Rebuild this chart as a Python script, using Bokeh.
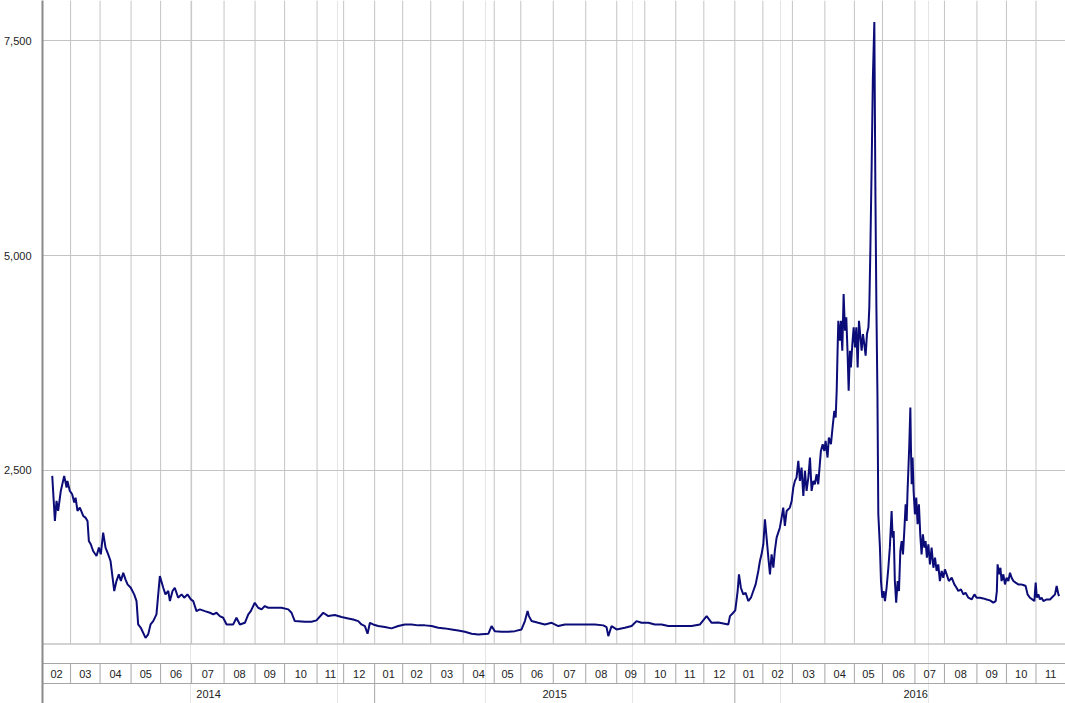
import numpy as np
from bokeh.plotting import figure
from bokeh.models import Range1d, FixedTicker, NumeralTickFormatter
from bokeh.embed import file_html
from bokeh.resources import INLINE

# ---- data ----
month_labels = ["02", "03", "04", "05", "06", "07", "08", "09", "10", "11", "12",
                "01", "02", "03", "04", "05", "06", "07", "08", "09", "10", "11", "12",
                "01", "02", "03", "04", "05", "06", "07", "08", "09", "10", "11", "12"]
# trading days per month (x axis is a trading-day index)
month_days = [19, 20, 21, 20, 21, 22, 21, 20, 22, 18, 21,
              19, 19, 22, 21, 18, 22, 22, 21, 19, 21, 19, 21,
              19, 20, 22, 20, 19, 22, 20, 22, 20, 20, 20, 21]
year_labels = ["2014", "2015", "2016"]
y_ticks = [2500, 5000, 7500]

day = [
    6.6, 8.4, 9.5, 10.6, 12.4, 14.7, 16.3, 16.9, 18.5, 20.1,
    21.5, 22.4, 23.7, 25.3, 27.6, 29.1, 30.5, 31.4, 32.7, 34.3,
    36.6, 38.2, 39.5, 41.1, 42.7, 44.5, 46.1, 47.2, 48.6, 50.1,
    51.7, 53.1, 54.7, 56.2, 57.6, 59.8, 62.1, 63.7, 64.8, 66.6,
    69.8, 71.6, 73.2, 75.0, 77.2, 78.4, 79.5, 81.8, 83.3, 85.2,
    86.3, 88.1, 89.6, 91.9, 94.2, 96.0, 98.2, 100.5, 102.1, 104.3,
    106.6, 110.0, 113.4, 115.7, 117.9, 120.1, 122.4, 124.7, 129.2, 131.4,
    133.7, 137.1, 139.4, 141.1, 143.8, 146.1, 148.4, 150.6, 152.9, 157.4,
    161.9, 166.5, 168.7, 170.9, 177.7, 182.2, 185.6, 190.2, 193.6, 198.0,
    202.6, 207.1, 210.5, 213.9, 216.1, 218.4, 220.2, 221.8, 224.0, 227.4,
    231.9, 236.4, 241.0, 245.5, 250.0, 254.5, 259.0, 263.6, 268.1, 272.6,
    277.1, 281.6, 286.1, 290.7, 295.2, 302.0, 304.2, 306.4, 311.0, 315.5,
    320.0, 324.5, 326.8, 328.6, 329.5, 331.3, 335.8, 340.3, 344.9, 349.4,
    353.9, 360.6, 367.4, 374.2, 379.9, 382.1, 383.3, 385.5, 388.9, 394.5,
    399.1, 402.4, 405.8, 410.4, 414.8, 419.4, 423.9, 428.4, 432.9, 439.7,
    445.4, 449.9, 453.3, 457.8, 464.6, 465.7, 467.9, 469.3, 470.9, 471.8,
    473.1, 474.7, 476.3, 478.1, 479.9, 481.5, 483.1, 484.9, 486.0, 487.1,
    488.3, 489.4, 490.5, 491.7, 492.8, 493.9, 495.1, 496.1, 497.3, 498.4,
    499.5, 500.7, 501.8, 502.9, 504.1, 505.2, 506.3, 507.5, 508.6, 509.7,
    510.8, 512.0, 513.1, 514.2, 515.4, 516.5, 517.6, 518.8, 519.9, 521.0,
    522.2, 523.2, 524.4, 525.5, 526.2, 527.3, 528.5, 529.6, 530.5, 531.8,
    532.7, 534.1, 535.2, 536.4, 537.3, 538.0, 538.6, 539.1, 540.2, 540.9,
    541.8, 542.7, 543.6, 544.5, 545.4, 546.1, 547.0, 547.6, 548.6, 549.5,
    550.4, 551.3, 552.2, 553.1, 554.1, 554.9, 555.8, 556.7, 557.6, 558.5,
    559.5, 560.1, 560.8, 561.7, 562.5, 563.5, 564.2, 564.9, 565.6, 566.2,
    567.3, 568.0, 568.9, 569.8, 570.7, 571.8, 573.0, 574.0, 575.2, 575.9,
    576.6, 577.4, 578.3, 579.3, 580.2, 581.1, 582.0, 582.9, 583.8, 584.7,
    585.4, 586.0, 586.7, 587.2, 587.9, 588.3, 588.8, 589.4, 590.1, 591.0,
    591.9, 592.8, 593.7, 594.6, 595.5, 596.4, 597.4, 598.2, 599.1, 600.1,
    601.2, 602.3, 603.5, 604.6, 605.7, 606.8, 607.9, 609.1, 610.2, 611.3,
    612.5, 614.0, 615.9, 617.7, 619.2, 620.4, 622.2, 623.8, 625.3, 627.2,
    629.4, 631.3, 632.8, 635.1, 637.3, 639.6, 641.8, 644.1, 645.7, 646.5,
    647.0, 647.9, 648.9, 649.7, 650.9, 652.0, 653.1, 654.3, 655.4, 656.5,
    657.7, 659.2, 661.0, 662.8, 664.4, 666.0, 667.3, 668.9, 670.5, 671.9,
    672.8, 673.6, 674.6, 675.7, 676.8, 678.0, 680.2, 682.5, 684.8, 685.9,
    687.0, 688.2, 688.6]

price = [
    2436, 1911, 2145, 2028, 2261, 2436, 2300, 2378, 2261, 2222,
    2125, 2183, 2028, 2067, 1970, 1950, 1911, 1678, 1640, 1562,
    1504, 1601, 1523, 1775, 1601, 1523, 1445, 1290, 1096, 1212,
    1290, 1212, 1309, 1232, 1173, 1134, 1057, 979, 707, 668,
    551, 591, 707, 746, 824, 1057, 1270, 1134, 1057, 1096,
    979, 1096, 1134, 1018, 1057, 1018, 1057, 998, 979, 862,
    882, 862, 843, 824, 843, 804, 785, 707, 707, 785,
    707, 726, 824, 862, 959, 901, 882, 921, 901, 901,
    901, 882, 843, 746, 738, 738, 754, 843, 804, 816,
    793, 777, 765, 746, 707, 688, 598, 726, 707, 688,
    676, 661, 688, 707, 707, 696, 696, 688, 668, 661,
    649, 637, 622, 598, 591, 598, 688, 629, 622, 622,
    629, 649, 746, 862, 804, 746, 726, 707, 726, 688,
    707, 707, 707, 707, 696, 676, 571, 688, 649, 668,
    688, 746, 726, 726, 707, 707, 688, 688, 688, 688,
    707, 804, 726, 730, 707, 804, 843, 870, 1096, 1290,
    1134, 1057, 1076, 979, 1018, 1096, 1173, 1329, 1445, 1523,
    1640, 1931, 1717, 1484, 1290, 1523, 1367, 1562, 1717, 1775,
    1833, 1950, 2067, 1853, 2028, 2047, 2067, 2145, 2300, 2378,
    2416, 2611, 2378, 2533, 2203, 2494, 2261, 2416, 2650, 2261,
    2378, 2339, 2455, 2339, 2494, 2727, 2805, 2727, 2844, 2650,
    2883, 2805, 2999, 3193, 3116, 3427, 3893, 4242, 4009, 4242,
    3893, 4553, 4126, 4281, 3854, 3427, 3893, 3698, 3971, 4165,
    3932, 4165, 3698, 4242, 4048, 3893, 4087, 3971, 3835, 4087,
    4165, 4398, 5058, 6068, 7059, 7719, 5780, 4400, 3392, 1989,
    1601, 1212, 1018, 1096, 979, 1134, 1367, 1601, 2028, 1717,
    1795, 1212, 960, 1212, 1096, 1562, 1678, 1523, 1795, 2106,
    1911, 2261, 2572, 2805, 3232, 2766, 2339, 2650, 2261, 1989,
    2183, 1873, 2106, 1756, 1523, 1756, 1601, 1678, 1484, 1640,
    1406, 1601, 1367, 1484, 1329, 1406, 1212, 1329, 1251, 1348,
    1290, 1212, 1251, 1173, 1134, 1096, 1115, 1057, 1076, 1018,
    998, 1057, 1018, 1018, 1010, 998, 987, 960, 979, 1096,
    1406, 1290, 1367, 1212, 1290, 1173, 1251, 1212, 1309, 1251,
    1212, 1193, 1173, 1173, 1166, 1154, 1057, 1018, 998, 979,
    1193, 1018, 1057, 998, 1018, 979, 998, 998, 1037, 1057,
    1154, 1057, 1037]

# ---- layout ----
W, H = 1065, 703
ROWS_H = 60            # height of the date-axis band under the plot
LEFT = 41
FONT = "Liberation Sans"
GRID = "#c4c4c4"
AXIS = "#8a8a8a"
ROWLINE = "#a6a6a6"
Y_LO, Y_HI = 485, 7970

bounds = np.concatenate([[0], np.cumsum(month_days)]).astype(float)
x_end = bounds[-2]  # end of November 2016 = right edge of view
y_start = Y_LO - ROWS_H * (Y_HI - Y_LO) / (H - ROWS_H)

p = figure(width=W, height=H, x_range=Range1d(0, x_end),
           y_range=Range1d(y_start, Y_HI), output_backend="svg",
           toolbar_location=None, x_axis_location=None,
           min_border_left=LEFT, min_border_right=0, min_border_top=0,
           min_border_bottom=0, outline_line_color=None)
p.extra_y_ranges = {"rows": Range1d(0, H)}   # pixel-like units for the axis band

p.yaxis.ticker = FixedTicker(ticks=y_ticks)
p.yaxis.formatter = NumeralTickFormatter(format="0,0")
p.yaxis.major_tick_line_color = None
p.yaxis.minor_tick_line_color = None
p.yaxis.axis_line_color = AXIS
p.yaxis.axis_line_width = 2
p.yaxis.major_label_standoff = 5
p.yaxis.major_label_text_font = FONT
p.yaxis.major_label_text_font_size = "11px"
p.yaxis.major_label_text_color = "#222222"
p.ygrid.ticker = FixedTicker(ticks=y_ticks)
p.ygrid.grid_line_color = GRID

# vertical month grid lines (plot area only)
inner = list(bounds[1:-1])
p.segment(x0=inner, y0=[ROWS_H] * len(inner), x1=inner, y1=[H] * len(inner),
          line_color=GRID, line_width=1, y_range_name="rows")

p.line(day, price, line_color="#0c0c78", line_width=2)

# ---- two-row date axis ----
p.segment(x0=[0], y0=[ROWS_H - 0.5], x1=[x_end], y1=[ROWS_H - 0.5],
          line_color=ROWLINE, line_width=1, y_range_name="rows")
p.segment(x0=[0, 0], y0=[40, 20], x1=[x_end, x_end], y1=[40, 20],
          line_color=ROWLINE, line_width=1, y_range_name="rows")

mb = list(bounds[1:])
p.segment(x0=mb, y0=[20] * len(mb), x1=mb, y1=[40] * len(mb),
          line_color=ROWLINE, line_width=1, y_range_name="rows")
vis = [i for i in range(len(month_labels)) if bounds[i + 1] <= x_end]
centers = [(bounds[i] + bounds[i + 1]) / 2 for i in vis]
p.text(x=centers, y=[30] * len(centers), text=[month_labels[i] for i in vis],
       text_align="center", text_baseline="middle", y_range_name="rows",
       text_font_size="11px", text_color="#222222", text_font={"value": FONT})

year_starts = [0.0] + [bounds[i] for i, m in enumerate(month_labels) if m == "01"]
year_ends = year_starts[1:] + [bounds[-1]]
p.segment(x0=year_starts[1:], y0=[0] * (len(year_starts) - 1),
          x1=year_starts[1:], y1=[20] * (len(year_starts) - 1),
          line_color=ROWLINE, line_width=1, y_range_name="rows")
ycent = [(a + b) / 2 for a, b in zip(year_starts, year_ends)]
p.text(x=ycent, y=[10] * len(ycent), text=year_labels,
       text_align="center", text_baseline="middle", y_range_name="rows",
       text_font_size="11px", text_color="#222222", text_font={"value": FONT})

open("out.html", "w").write(file_html(p, INLINE))
